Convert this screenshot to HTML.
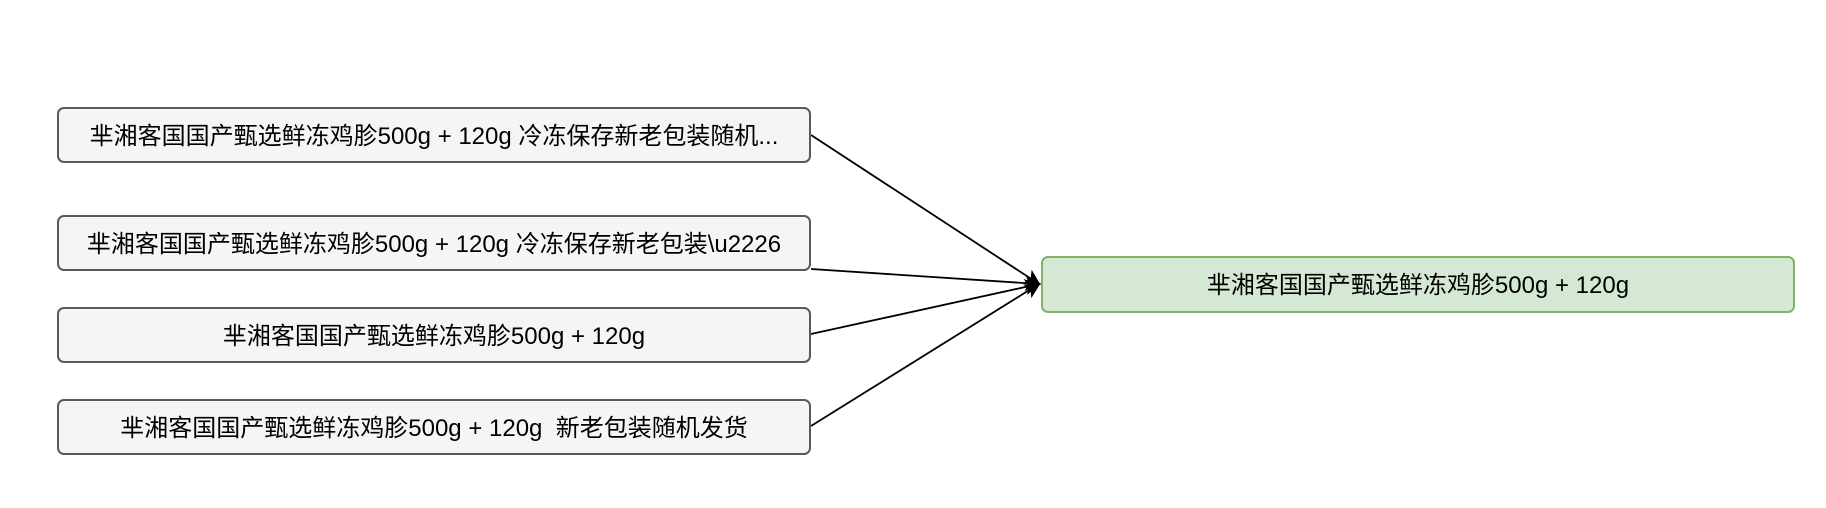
<!DOCTYPE html>
<html><head><meta charset="utf-8"><style>
body{margin:0;width:1826px;height:508px;background:#fff;position:relative;overflow:hidden;font-family:"Liberation Sans","Noto Sans CJK SC",sans-serif;}
.b{position:absolute;box-sizing:border-box;border:2px solid #5a5a5a;background:#f5f5f5;border-radius:7px;display:flex;align-items:center;justify-content:center;font-size:24px;color:#000;white-space:pre;padding-bottom:4px;}
.g{background:#d5e8d4;border-color:#82b366;}
svg{position:absolute;left:0;top:0;}
</style></head><body>
<svg width="1826" height="508">
<defs><marker id="a" markerWidth="16" markerHeight="16" refX="14" refY="8" orient="auto" markerUnits="userSpaceOnUse"><path d="M0,0 L16,8 L0,16 L4,8 Z" fill="#000"/></marker></defs>
<g stroke="#000" stroke-width="1.8" fill="none" marker-end="url(#a)">
<line x1="811" y1="135" x2="1039" y2="284"/>
<line x1="811" y1="269" x2="1039" y2="284"/>
<line x1="811" y1="334" x2="1039" y2="284"/>
<line x1="811" y1="426" x2="1039" y2="284"/>
</g></svg>
<div class="b" style="left:57px;top:107px;width:754px;height:56px">芈湘客国国产甄选鲜冻鸡胗500g + 120g 冷冻保存新老包装随机...</div>
<div class="b" style="left:57px;top:215px;width:754px;height:56px">芈湘客国国产甄选鲜冻鸡胗500g + 120g 冷冻保存新老包装\u2226</div>
<div class="b" style="left:57px;top:307px;width:754px;height:56px">芈湘客国国产甄选鲜冻鸡胗500g + 120g</div>
<div class="b" style="left:57px;top:399px;width:754px;height:56px">芈湘客国国产甄选鲜冻鸡胗500g + 120g  新老包装随机发货</div>
<div class="b g" style="left:1041px;top:256px;width:754px;height:57px">芈湘客国国产甄选鲜冻鸡胗500g + 120g</div>
</body></html>
